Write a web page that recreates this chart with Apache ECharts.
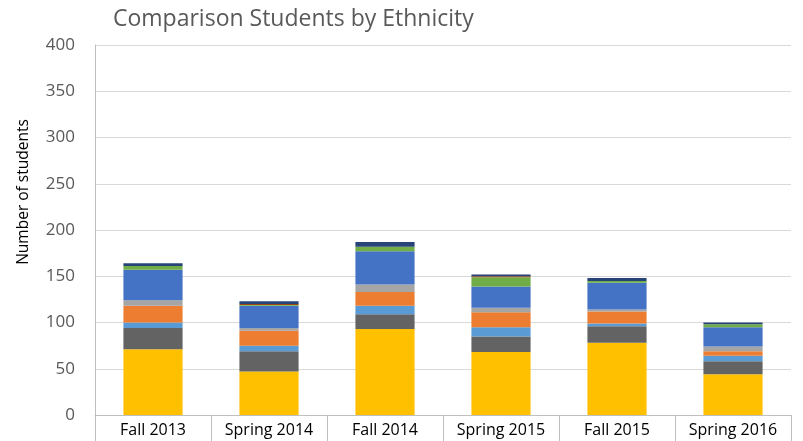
<!DOCTYPE html>
<html>
<head>
<meta charset="utf-8">
<script src="https://cdn.jsdelivr.net/npm/echarts@6/dist/echarts.min.js"></script>
<style>html,body{margin:0;padding:0;background:#fff}#c{width:803px;height:441px}</style>
</head>
<body>
<div id="c"></div>
<script>
const categories = ['Fall 2013', 'Spring 2014', 'Fall 2014', 'Spring 2015', 'Fall 2015', 'Spring 2016'];
const group1 = [71, 47, 93, 68, 78, 44];
const group2 = [23, 22, 16, 17, 18, 14];
const group3 = [6, 6, 9, 10, 3, 6];
const group4 = [18, 16, 15, 16, 13, 5];
const group5 = [6, 3, 8, 5, 2, 5];
const group6 = [33, 24, 36, 23, 29, 21];
const group7 = [4, 1, 5, 10, 2, 3];
const group8 = [0, 1, 0, 1, 0, 0];
const group9 = [3, 3, 5, 2, 3, 2];
const yTicks = [0, 50, 100, 150, 200, 250, 300, 350, 400];

const seriesDefs = [
  ['Group 1', group1, '#FFC000'],
  ['Group 2', group2, '#636363'],
  ['Group 3', group3, '#5B9BD5'],
  ['Group 4', group4, '#ED7D31'],
  ['Group 5', group5, '#A5A5A5'],
  ['Group 6', group6, '#4472C4'],
  ['Group 7', group7, '#70AD47'],
  ['Group 8', group8, '#9E480E'],
  ['Group 9', group9, '#264478']
];

const chart = echarts.init(document.getElementById('c'));
chart.setOption({
  animation: false,
  title: {
    text: 'Comparison Students by Ethnicity',
    left: 108, top: 3,
    textStyle: { fontFamily: 'Open Sans', fontSize: 23, fontWeight: 'normal', color: '#595959' }
  },
  graphic: [{
    type: 'text',
    x: 24, y: 192,
    rotation: Math.PI / 2,
    style: {
      text: 'Number of students',
      fontFamily: 'Open Sans', fontSize: 15.5, fill: '#000',
      align: 'center', verticalAlign: 'middle'
    }
  }],
  grid: { left: 95, right: 12, top: 45, bottom: 26 },
  xAxis: {
    type: 'category',
    data: categories,
    axisLine: { lineStyle: { color: '#BFBFBF', width: 1 } },
    axisTick: { show: true, interval: 0, length: 26, lineStyle: { color: '#BFBFBF' } },
    axisLabel: { interval: 0, fontFamily: 'Open Sans', fontSize: 16, color: '#000', margin: 7 }
  },
  yAxis: {
    type: 'value',
    min: yTicks[0], max: yTicks[yTicks.length - 1], interval: 50,
    axisLine: { show: true, lineStyle: { color: '#BFBFBF' } },
    axisTick: { show: false },
    axisLabel: { fontFamily: 'Open Sans', fontSize: 17, color: '#595959', margin: 20 },
    splitLine: { lineStyle: { color: '#D9D9D9', width: 1 } }
  },
  series: seriesDefs.map(([name, data, color]) => ({
    name, type: 'bar', stack: 'all', data,
    barWidth: '51%',
    itemStyle: { color }
  }))
});
</script>
</body>
</html>
